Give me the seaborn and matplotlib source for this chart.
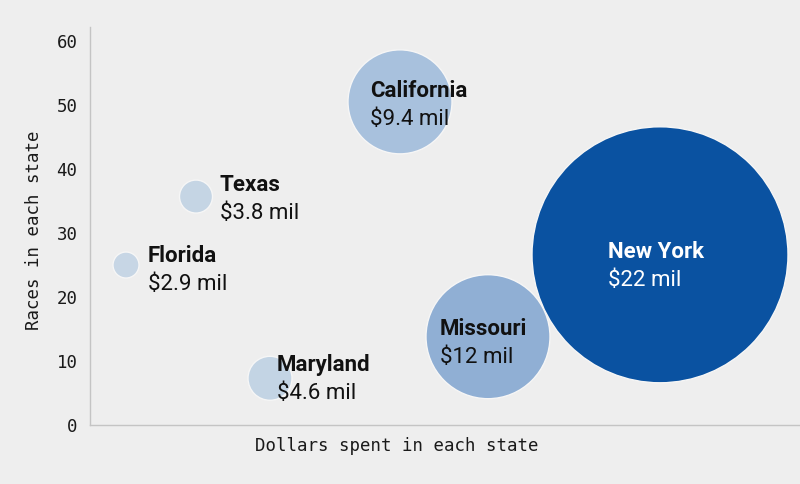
import matplotlib
matplotlib.use('Agg')
import matplotlib.pyplot as plt
import seaborn as sns
import pandas as pd

sns.set_style('white')

# data
states = ['Florida', 'Texas', 'Maryland', 'California', 'Missouri', 'New York']
dollars_mil = [2.9, 3.8, 4.6, 9.4, 12, 22]
dollar_labels = ['$2.9 mil', '$3.8 mil', '$4.6 mil', '$9.4 mil', '$12 mil', '$22 mil']
races = [25, 35.7, 7.3, 50.5, 13.8, 26.6]
x_pos = [36, 106, 180, 310, 398, 570]  # horizontal layout position (no scale shown)
y_ticks = [0, 10, 20, 30, 40, 50, 60]

df = pd.DataFrame({'state': states, 'dollars': dollars_mil, 'races': races, 'x': x_pos,
                   'label': dollar_labels})

# styles
bg = '#eeeeee'
colors = {'Florida': '#c7d6e5', 'Texas': '#c5d5e4', 'Maryland': '#c3d4e4',
          'California': '#a8c1dd', 'Missouri': '#90afd4', 'New York': '#0a52a1'}
radius_px = {'Florida': 13, 'Texas': 16.5, 'Maryland': 22, 'California': 52,
             'Missouri': 62, 'New York': 128}
sizes = {k: (1.44 * r) ** 2 for k, r in radius_px.items()}
label_dx = {'Florida': 22, 'Texas': 24, 'Maryland': 7, 'California': -30,
            'Missouri': -48, 'New York': -52}
label_dy = {'Florida': 3, 'Texas': 6, 'Maryland': 7, 'California': 5,
            'Missouri': 2, 'New York': -3}

fig = plt.figure(figsize=(8, 4.84), dpi=100, facecolor=bg)
ax = fig.add_axes([90 / 800, 59 / 484, 710 / 800, 398 / 484])
ax.set_facecolor(bg)

sns.scatterplot(data=df, x='x', y='races', hue='state', palette=colors,
                size='state', sizes=sizes, edgecolor='#f6f6f6', linewidth=1,
                alpha=1, legend=False, ax=ax, clip_on=False, zorder=3)

# labels next to / inside bubbles
for _, row in df.iterrows():
    st = row['state']
    tc = 'white' if st == 'New York' else '#111111'
    ax.annotate(st, xy=(row['x'], row['races']),
                xytext=(label_dx[st] * 0.72, label_dy[st] * 0.72), textcoords='offset points',
                ha='left', va='baseline', fontsize=16, fontweight='bold',
                family='Roboto', color=tc, zorder=5)
    ax.annotate(row['label'], xy=(row['x'], row['races']),
                xytext=(label_dx[st] * 0.72, (label_dy[st] - 28) * 0.72), textcoords='offset points',
                ha='left', va='baseline', fontsize=16, family='Roboto', color=tc, zorder=5)

ax.set_xlim(0, 710)
ax.set_ylim(0, 62.2)
ax.set_xticks([])
ax.set_yticks(y_ticks)
ax.tick_params(axis='y', length=6, width=0.8, color='#c4c4c4', pad=3,
               labelsize=12.5, labelcolor='#1a1a1a')
for t in ax.get_yticklabels():
    t.set_family('DejaVu Sans Mono')

for side in ['top', 'right']:
    ax.spines[side].set_visible(False)
for side in ['left', 'bottom']:
    ax.spines[side].set_color('#c4c4c4')
    ax.spines[side].set_linewidth(1)

ax.set_ylabel('Races in each state', family='DejaVu Sans Mono', fontsize=12.5,
              color='#1a1a1a')
ax.yaxis.set_label_coords(-47 / 710, 0.49)
ax.set_xlabel('Dollars spent in each state', family='DejaVu Sans Mono', fontsize=12.5,
              color='#1a1a1a')
ax.xaxis.set_label_coords((397 - 90) / 710, -12 / 398)

fig.savefig('out.png', dpi=100, facecolor=bg)
